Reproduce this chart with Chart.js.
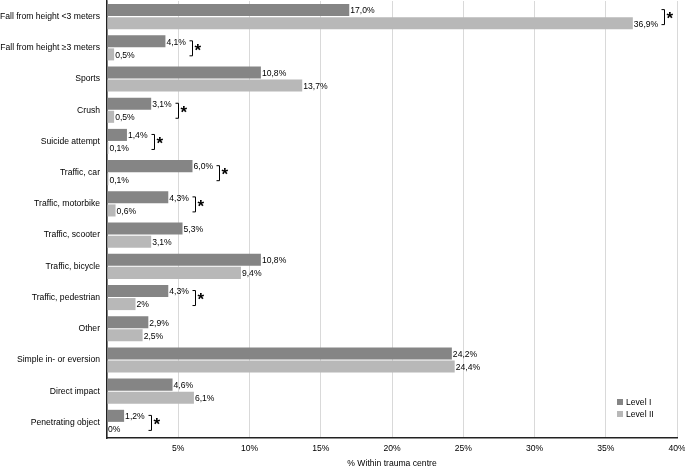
<!DOCTYPE html>
<html>
<head>
<meta charset="utf-8">
<script src="https://cdn.jsdelivr.net/npm/chart.js@4/dist/chart.umd.min.js"></script>
<style>
  html, body { margin: 0; padding: 0; background: #fff; }
  #wrap { width: 685px; height: 469px; position: relative; }
</style>
</head>
<body>
<div id="wrap"><canvas id="chart"></canvas></div>
<script>
const categories = [
    'Fall from height <3 meters', 'Fall from height \u22653 meters', 'Sports', 'Crush',
    'Suicide attempt', 'Traffic, car', 'Traffic, motorbike', 'Traffic, scooter',
    'Traffic, bicycle', 'Traffic, pedestrian', 'Other', 'Simple in- or eversion',
    'Direct impact', 'Penetrating object'
];
const levelI = [17.0, 4.1, 10.8, 3.1, 1.4, 6.0, 4.3, 5.3, 10.8, 4.3, 2.9, 24.2, 4.6, 1.2];
const levelII = [36.9, 0.5, 13.7, 0.5, 0.1, 0.1, 0.6, 3.1, 9.4, 2, 2.5, 24.4, 6.1, 0];
const labelsI = ['17,0%', '4,1%', '10,8%', '3,1%', '1,4%', '6,0%', '4,3%', '5,3%', '10,8%', '4,3%', '2,9%', '24,2%', '4,6%', '1,2%'];
const labelsII = ['36,9%', '0,5%', '13,7%', '0,5%', '0,1%', '0,1%', '0,6%', '3,1%', '9,4%', '2%', '2,5%', '24,4%', '6,1%', '0%'];
const significant = [true, true, false, true, true, true, true, false, false, true, false, false, false, true];
const xTicks = [0, 5, 10, 15, 20, 25, 30, 35, 40];

const FONT = '"Liberation Sans", Arial, sans-serif';
const FSIZE = 8.6;

// value labels, significance brackets and the inside legend
const overlay = {
    id: 'overlay',
    afterDatasetsDraw(chart) {
        const ctx = chart.ctx;
        const labelSets = [labelsI, labelsII];
        ctx.save();
        ctx.font = FSIZE + 'px ' + FONT;
        ctx.fillStyle = '#000';
        ctx.textBaseline = 'middle';
        ctx.textAlign = 'left';
        const ends = categories.map(() => 0);
        chart.data.datasets.forEach((ds, di) => {
            chart.getDatasetMeta(di).data.forEach((bar, i) => {
                const txt = labelSets[di][i];
                const tx = bar.x + 1;
                ctx.fillText(txt, tx, bar.y + 1);
                ends[i] = Math.max(ends[i], tx + ctx.measureText(txt).width);
            });
        });

        // brackets with asterisk
        const m1 = chart.getDatasetMeta(1).data;
        const ys = chart.getDatasetMeta(0).data.map((b, i) => (b.y + m1[i].y) / 2);
        ctx.strokeStyle = '#000';
        ctx.lineWidth = 1;
        significant.forEach((s, i) => {
            if (!s) return;
            const bx = Math.round(ends[i] + 6) + 0.5;
            const cy = ys[i];
            ctx.beginPath();
            ctx.moveTo(bx - 3, cy - 7);
            ctx.lineTo(bx, cy - 7);
            ctx.lineTo(bx, cy + 8);
            ctx.lineTo(bx - 3, cy + 8);
            ctx.stroke();
            ctx.font = 'bold 17px ' + FONT;
            ctx.fillText('*', bx + 2, cy + 3);
        });

        // legend in the lower right of the plot
        ctx.font = FSIZE + 'px ' + FONT;
        chart.data.datasets.forEach((ds, di) => {
            const ly = 402 + di * 12;
            ctx.fillStyle = ds.backgroundColor;
            ctx.fillRect(617, ly - 3, 6, 6);
            ctx.fillStyle = '#000';
            ctx.fillText(ds.label, 626, ly + 1);
        });
        ctx.restore();
    }
};

new Chart(document.getElementById('chart'), {
    type: 'bar',
    data: {
        labels: categories,
        datasets: [
            { label: 'Level I', data: levelI, backgroundColor: '#858585' },
            { label: 'Level II', data: levelII, backgroundColor: '#b8b8b8' }
        ]
    },
    options: {
        indexAxis: 'y',
        responsive: true,
        maintainAspectRatio: false,
        animation: false,
        categoryPercentage: 0.84,
        barPercentage: 0.92,
        layout: { padding: { top: 1, right: 8, left: 0, bottom: 0 } },
        plugins: {
            legend: { display: false },
            tooltip: { enabled: false }
        },
        scales: {
            x: {
                min: 0,
                max: 40,
                afterBuildTicks: (s) => { s.ticks = xTicks.map(v => ({ value: v })); },
                afterFit: (s) => {
                    s.height = 31;
                    s.paddingLeft = 0; s.paddingRight = 0;
                },
                grid: { color: '#d9d9d9', drawTicks: false, lineWidth: 1 },
                border: { display: true, color: '#222', width: 1.5 },
                ticks: {
                    color: '#000',
                    padding: 5,
                    maxRotation: 0,
                    font: { family: FONT, size: FSIZE },
                    callback: (v) => v === 0 ? '' : v + '%'
                },
                title: {
                    display: true,
                    text: '% Within trauma centre',
                    color: '#000',
                    padding: { top: 5, bottom: 0 },
                    font: { family: FONT, size: FSIZE }
                }
            },
            y: {
                afterFit: (s) => {
                    s.width = 107;
                    s.paddingTop = 0; s.paddingBottom = 0;
                },
                grid: { display: false, drawTicks: false },
                border: { display: true, color: '#222', width: 1.5 },
                ticks: {
                    color: '#000',
                    padding: 7,
                    autoSkip: false,
                    font: { family: FONT, size: FSIZE }
                }
            }
        }
    },
    plugins: [overlay]
});
</script>
</body>
</html>
